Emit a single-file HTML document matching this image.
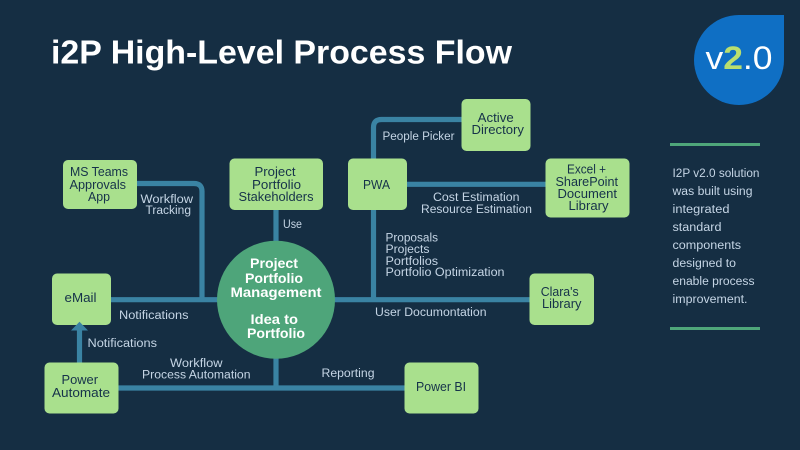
<!DOCTYPE html>
<html>
<head>
<meta charset="utf-8">
<style>
html,body{margin:0;padding:0;background:#152e43;width:800px;height:450px;overflow:hidden}
svg{display:block}
text{font-family:"Liberation Sans",sans-serif}
.n{font-size:12.5px;fill:#16324a}
.l{font-size:11.5px;fill:#c5d5e5}
.c{font-size:14px;fill:#fff;font-weight:bold}
.b{font-size:11.5px;fill:#c5d5e5}
.box{fill:#a9e08d}
.w{fill:none;stroke:#3a83a3;stroke-width:5.2}
</style>
</head>
<body>
<svg width="800" height="450" viewBox="0 0 800 450" xmlns="http://www.w3.org/2000/svg">
<rect width="800" height="450" fill="#152e43"/>
<text x="51" y="63.5" font-size="33" font-weight="bold" fill="#fff" textLength="461" lengthAdjust="spacingAndGlyphs">i2P High-Level Process Flow</text>

<path d="M784 15V60A45 45 0 1 1 739 15Z" fill="#0f6fc4"/>
<text x="705.5" y="69" font-size="32" fill="#fff" textLength="67" lengthAdjust="spacingAndGlyphs">v<tspan fill="#b9df6f" font-weight="bold">2</tspan>.0</text>

<rect x="670" y="143" width="90" height="3" fill="#4fa67a"/>
<rect x="670" y="327" width="90" height="3" fill="#4fa67a"/>
<text class="b" x="672.5" y="177" textLength="87" lengthAdjust="spacingAndGlyphs">I2P v2.0 solution</text>
<text class="b" x="672.5" y="195" textLength="80" lengthAdjust="spacingAndGlyphs">was built using</text>
<text class="b" x="672.5" y="213" textLength="57" lengthAdjust="spacingAndGlyphs">integrated</text>
<text class="b" x="672.5" y="231" textLength="49" lengthAdjust="spacingAndGlyphs">standard</text>
<text class="b" x="672.5" y="249" textLength="68.5" lengthAdjust="spacingAndGlyphs">components</text>
<text class="b" x="672.5" y="267" textLength="63.5" lengthAdjust="spacingAndGlyphs">designed to</text>
<text class="b" x="672.5" y="285" textLength="82" lengthAdjust="spacingAndGlyphs">enable process</text>
<text class="b" x="672.5" y="303" textLength="75" lengthAdjust="spacingAndGlyphs">improvement.</text>

<!-- connectors -->
<path class="w" d="M111 299.7H530"/>
<path class="w" d="M137 183.5H194Q202 183.5 202 191.5V300"/>
<path class="w" d="M276 210V388"/>
<path class="w" d="M118 388H405"/>
<path class="w" d="M373.5 300V210"/>
<path class="w" d="M373.5 159V127.5Q373.5 119.5 381.5 119.5H462"/>
<path class="w" d="M407 184.3H546"/>
<path class="w" d="M79.5 363V329"/>

<!-- boxes -->
<rect class="box" x="63" y="160" width="74" height="49" rx="5"/>
<rect class="box" x="229.5" y="158.5" width="93.5" height="51.5" rx="5"/>
<rect class="box" x="348" y="158.5" width="59" height="51.5" rx="5"/>
<rect class="box" x="461.5" y="99" width="69" height="52" rx="5"/>
<rect class="box" x="545.5" y="158.5" width="84" height="59" rx="5"/>
<rect class="box" x="52" y="273.5" width="59" height="51.5" rx="5"/>
<rect class="box" x="44.5" y="362.5" width="74" height="51" rx="5"/>
<rect class="box" x="529.5" y="273.5" width="64.5" height="51.5" rx="5"/>
<rect class="box" x="404.5" y="362.5" width="74" height="51" rx="5"/>
<circle cx="276" cy="299.7" r="59" fill="#4ea57a"/>
<path d="M71 330.5L79.5 321.7L88 330.5Z" fill="#3a83a3"/>

<!-- node text -->
<text class="n" x="70" y="176" textLength="58" lengthAdjust="spacingAndGlyphs">MS Teams</text>
<text class="n" x="69.5" y="189" textLength="56.5" lengthAdjust="spacingAndGlyphs">Approvals</text>
<text class="n" x="88" y="201" textLength="22" lengthAdjust="spacingAndGlyphs">App</text>
<text class="n" x="254.5" y="176" textLength="41" lengthAdjust="spacingAndGlyphs">Project</text>
<text class="n" x="252" y="189" textLength="49" lengthAdjust="spacingAndGlyphs">Portfolio</text>
<text class="n" x="238.5" y="201" textLength="75" lengthAdjust="spacingAndGlyphs">Stakeholders</text>
<text class="n" x="363" y="189" textLength="27" lengthAdjust="spacingAndGlyphs">PWA</text>
<text class="n" x="477.7" y="122" textLength="36" lengthAdjust="spacingAndGlyphs">Active</text>
<text class="n" x="471.5" y="134" textLength="52.5" lengthAdjust="spacingAndGlyphs">Directory</text>
<text class="n" x="567" y="173.5" textLength="39" lengthAdjust="spacingAndGlyphs">Excel +</text>
<text class="n" x="555.5" y="186" textLength="62.5" lengthAdjust="spacingAndGlyphs">SharePoint</text>
<text class="n" x="557.5" y="198" textLength="59.5" lengthAdjust="spacingAndGlyphs">Document</text>
<text class="n" x="568.5" y="210" textLength="40" lengthAdjust="spacingAndGlyphs">Library</text>
<text class="n" x="64.5" y="302" textLength="32" lengthAdjust="spacingAndGlyphs">eMail</text>
<text class="n" x="61.5" y="384" textLength="36.5" lengthAdjust="spacingAndGlyphs">Power</text>
<text class="n" x="52" y="397" textLength="58" lengthAdjust="spacingAndGlyphs">Automate</text>
<text class="n" x="540.7" y="296" textLength="38" lengthAdjust="spacingAndGlyphs">Clara's</text>
<text class="n" x="542" y="308" textLength="39.5" lengthAdjust="spacingAndGlyphs">Library</text>
<text class="n" x="416" y="391" textLength="50" lengthAdjust="spacingAndGlyphs">Power BI</text>

<!-- circle text -->
<text class="c" x="250" y="268" textLength="48" lengthAdjust="spacingAndGlyphs">Project</text>
<text class="c" x="245" y="283" textLength="58" lengthAdjust="spacingAndGlyphs">Portfolio</text>
<text class="c" x="230.5" y="297" textLength="91" lengthAdjust="spacingAndGlyphs">Management</text>
<text class="c" x="250.5" y="324" textLength="47.5" lengthAdjust="spacingAndGlyphs">Idea to</text>
<text class="c" x="247" y="338" textLength="58" lengthAdjust="spacingAndGlyphs">Portfolio</text>

<!-- connector labels -->
<text class="l" x="140.5" y="203" textLength="52.5" lengthAdjust="spacingAndGlyphs">Workflow</text>
<text class="l" x="145.5" y="214" textLength="45.5" lengthAdjust="spacingAndGlyphs">Tracking</text>
<text class="l" x="283" y="228" textLength="19" lengthAdjust="spacingAndGlyphs">Use</text>
<text class="l" x="382.5" y="140" textLength="72" lengthAdjust="spacingAndGlyphs">People Picker</text>
<text class="l" x="433" y="201" textLength="86.5" lengthAdjust="spacingAndGlyphs">Cost Estimation</text>
<text class="l" x="421" y="213" textLength="111" lengthAdjust="spacingAndGlyphs">Resource Estimation</text>
<text class="l" x="385.5" y="241.5" textLength="52.5" lengthAdjust="spacingAndGlyphs">Proposals</text>
<text class="l" x="385.5" y="253" textLength="44" lengthAdjust="spacingAndGlyphs">Projects</text>
<text class="l" x="385.5" y="265" textLength="52.5" lengthAdjust="spacingAndGlyphs">Portfolios</text>
<text class="l" x="385.5" y="276" textLength="119" lengthAdjust="spacingAndGlyphs">Portfolio Optimization</text>
<text class="l" x="375" y="316" textLength="111.5" lengthAdjust="spacingAndGlyphs">User Documontation</text>
<text class="l" x="119" y="319" textLength="69.5" lengthAdjust="spacingAndGlyphs">Notifications</text>
<text class="l" x="87.5" y="347" textLength="69.5" lengthAdjust="spacingAndGlyphs">Notifications</text>
<text class="l" x="170" y="367" textLength="52.5" lengthAdjust="spacingAndGlyphs">Workflow</text>
<text class="l" x="142" y="378.5" textLength="108.5" lengthAdjust="spacingAndGlyphs">Process Automation</text>
<text class="l" x="321.5" y="377" textLength="53" lengthAdjust="spacingAndGlyphs">Reporting</text>
</svg>
</body>
</html>
